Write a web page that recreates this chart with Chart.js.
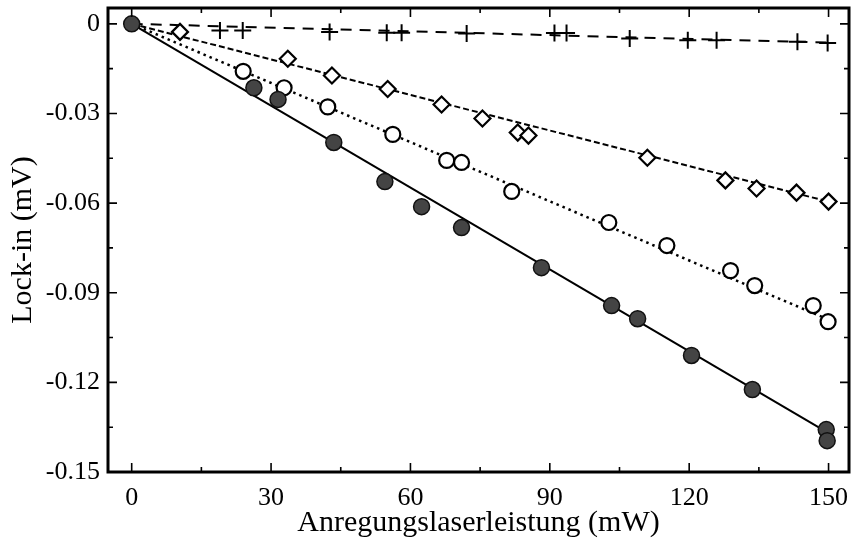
<!DOCTYPE html>
<html><head><meta charset="utf-8">
<script src="https://cdn.jsdelivr.net/npm/chart.js@4/dist/chart.umd.min.js"></script>
<style>html,body{margin:0;padding:0;background:#fff}</style>
</head><body>
<canvas id="c" width="853" height="546"></canvas>
<script>
// ---- data ----
const filledX = [0, 26.3, 31.5, 43.5, 54.5, 62.4, 71.0, 88.2, 103.3, 108.9, 120.5, 133.6, 149.5, 149.7];
const filledY = [0, -0.0214, -0.0253, -0.0397, -0.0528, -0.0612, -0.0682, -0.0816, -0.0943, -0.0987, -0.1110, -0.1224, -0.1358, -0.1395];

const openX = [24.0, 32.8, 42.2, 56.2, 67.8, 71.0, 81.8, 102.7, 115.2, 128.9, 134.1, 146.7, 149.9];
const openY = [-0.0159, -0.0214, -0.0278, -0.0370, -0.0457, -0.0464, -0.0561, -0.0665, -0.0742, -0.0826, -0.0876, -0.0943, -0.0997];

const diamondX = [10.4, 33.6, 43.1, 55.1, 66.7, 75.5, 83.1, 85.4, 111.0, 127.8, 134.5, 143.1, 150.0];
const diamondY = [-0.0027, -0.0117, -0.0173, -0.0218, -0.0270, -0.0317, -0.0364, -0.0374, -0.0448, -0.0524, -0.0551, -0.0565, -0.0595];

const crossX = [19.0, 23.9, 42.6, 54.9, 58.1, 72.1, 91.0, 93.6, 107.2, 119.7, 125.9, 143.3, 149.8];
const crossY = [-0.0022, -0.0022, -0.0027, -0.0030, -0.0030, -0.0032, -0.0031, -0.0031, -0.0049, -0.0055, -0.0055, -0.0060, -0.0064];

// fitted lines (endpoints)
const fitX = [0, 150];
const fitFilled = [0, -0.137];
const fitOpen = [0, -0.099];
const fitDiamond = [0, -0.0595];
const fitCross = [0, -0.0063];

// ticks
const xTickValues = [0, 30, 60, 90, 120, 150];
const xTickLabels = ['0', '30', '60', '90', '120', '150'];
const xMinorValues = [15, 45, 75, 105, 135];
const yTickValues = [0, -0.03, -0.06, -0.09, -0.12, -0.15];
const yTickLabels = ['0', '-0.03', '-0.06', '-0.09', '-0.12', '-0.15'];
const yMinorValues = [-0.015, -0.045, -0.075, -0.105, -0.135];

const xTitle = 'Anregungslaserleistung (mW)';
const yTitle = 'Lock-in (mV)';

// ---- build ----
const pts = (xs, ys) => xs.map((x, i) => ({x: x, y: ys[i]}));
const FONT = "'Liberation Serif', 'Times New Roman', serif";

const frameTicks = {
  id: 'frameTicks',
  afterDraw(chart) {
    const {ctx, chartArea: a, scales: {x, y}} = chart;
    ctx.save();
    ctx.strokeStyle = '#000';
    ctx.lineWidth = 1.6;
    ctx.beginPath();
    const xt = (vals, len) => vals.forEach(v => {
      const p = x.getPixelForValue(v);
      ctx.moveTo(p, a.bottom); ctx.lineTo(p, a.bottom - len);
      ctx.moveTo(p, a.top); ctx.lineTo(p, a.top + len);
    });
    const yt = (vals, len) => vals.forEach(v => {
      const p = y.getPixelForValue(v);
      ctx.moveTo(a.left, p); ctx.lineTo(a.left + len, p);
      ctx.moveTo(a.right, p); ctx.lineTo(a.right - len, p);
    });
    xt(xTickValues, 9); xt(xMinorValues, 5);
    yt(yTickValues, 9); yt(yMinorValues, 5);
    ctx.stroke();
    ctx.lineWidth = 3;
    ctx.strokeRect(a.left, a.top, a.right - a.left, a.bottom - a.top);
    ctx.restore();
  }
};

new Chart(document.getElementById('c'), {
  type: 'scatter',
  data: {
    datasets: [
      {data: pts(filledX, filledY), pointStyle: 'circle', pointRadius: 8,
       pointBackgroundColor: '#444', pointBorderColor: '#111', pointBorderWidth: 1.5},
      {data: pts(openX, openY), pointStyle: 'circle', pointRadius: 7.5,
       pointBackgroundColor: '#fff', pointBorderColor: '#000', pointBorderWidth: 2.2},
      {data: pts(diamondX, diamondY), pointStyle: 'rectRot', pointRadius: 8,
       pointBackgroundColor: '#fff', pointBorderColor: '#000', pointBorderWidth: 2.2},
      {data: pts(crossX, crossY), pointStyle: 'cross', pointRadius: 8.5,
       pointBorderColor: '#000', pointBorderWidth: 2},
      {data: pts(fitX, fitFilled), showLine: true, pointRadius: 0, borderColor: '#000', borderWidth: 2},
      {data: pts(fitX, fitOpen), showLine: true, pointRadius: 0, borderColor: '#000', borderWidth: 2.5, borderDash: [2.5, 4]},
      {data: pts(fitX, fitDiamond), showLine: true, pointRadius: 0, borderColor: '#000', borderWidth: 2, borderDash: [6, 3]},
      {data: pts(fitX, fitCross), showLine: true, pointRadius: 0, borderColor: '#000', borderWidth: 2, borderDash: [11, 8]}
    ]
  },
  options: {
    responsive: false,
    animation: false,
    devicePixelRatio: 1,
    layout: {autoPadding: false, padding: {left: 0, right: 4, top: 8, bottom: 0}},
    plugins: {legend: {display: false}, tooltip: {enabled: false}},
    scales: {
      x: {
        type: 'linear', position: 'bottom', min: -5.1, max: 154.4,
        afterBuildTicks: s => { s.ticks = xTickValues.map(v => ({value: v})); },
        afterFit: s => { s.height = 74; s.paddingLeft = 0; s.paddingRight = 0; },
        grid: {display: false, drawTicks: false},
        border: {display: false},
        ticks: {color: '#000', font: {family: FONT, size: 26}, padding: 11,
                callback: (v) => xTickLabels[xTickValues.indexOf(v)]},
        title: {display: true, text: xTitle, color: '#000', font: {family: FONT, size: 30}, padding: {top: 0, bottom: 5}}
      },
      y: {
        type: 'linear', position: 'left', min: -0.15, max: 0.0053,
        afterBuildTicks: s => { s.ticks = yTickValues.map(v => ({value: v})); },
        afterFit: s => { s.width = 108; s.paddingTop = 0; s.paddingBottom = 0; },
        grid: {display: false, drawTicks: false},
        border: {display: false},
        ticks: {color: '#000', font: {family: FONT, size: 26}, padding: 8,
                callback: (v) => yTickLabels[yTickValues.findIndex(t => Math.abs(t - v) < 1e-9)]},
        title: {display: true, text: yTitle, color: '#000', font: {family: FONT, size: 30}, padding: {top: 5, bottom: 0}}
      }
    }
  },
  plugins: [frameTicks]
});
</script>
</body></html>
